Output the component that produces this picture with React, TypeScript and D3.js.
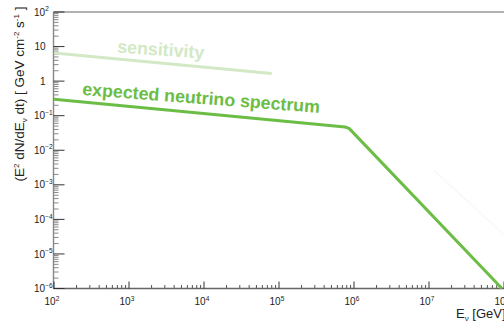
import React from "react";
import * as d3 from "d3";

// ---- data ----
const xExponents = [2, 3, 4, 5, 6, 7, 8];
const yExponents = [2, 1, 0, -1, -2, -3, -4, -5, -6];

const sensitivityE = [1e2, 8e4];
const sensitivityFlux = [6.5, 1.65];

const spectrumE = [1e2, 7.6e5, 8.6e5, 9.4e7];
const spectrumFlux = [0.3, 0.047, 0.043, 1.0e-6];

const faintE = [1.17e7, 1.1e8];
const faintFlux = [2.6e-3, 3.0e-5];

const W = 504;
const H = 323;

const x0 = 54;
const decadeX = 75;
const yTop = 12;
const yBottom = 288.5;

const xScale = d3.scaleLog().domain([1e2, 1e8]).range([x0, x0 + 6 * decadeX]);
const yScale = d3.scaleLog().domain([1e-6, 1e2]).range([yBottom, yTop]);

const GREEN = "#6cbd45";
const LIGHT_GREEN = "#d3e8c5";

function makeLine(es: number[], fs: number[]) {
  const pts = es.map((e, i) => [e, fs[i]] as [number, number]);
  return d3
    .line<[number, number]>()
    .x((d) => xScale(d[0]))
    .y((d) => yScale(d[1]))(pts) as string;
}

const FONT = "'Liberation Sans', Arial, Helvetica, sans-serif";

function expLabel(e: number): string {
  return e < 0 ? "\u2212" + Math.abs(e) : String(e);
}

export default function App() {
  const axisX = x0 - 0.5;

  const yMinor: number[] = [];
  for (let e = -6; e < 2; e++) {
    for (let m = 2; m <= 9; m++) yMinor.push(m * Math.pow(10, e));
  }
  const xMinor: number[] = [];
  for (let e = 2; e < 8; e++) {
    for (let m = 2; m <= 9; m++) xMinor.push(m * Math.pow(10, e));
  }

  return (
    <svg
      width={W}
      height={H}
      style={{ position: "absolute", left: 0, top: 0, background: "#fff" }}
      fontFamily={FONT}
    >
      {/* frame */}
      <line x1={axisX} x2={W + 10} y1={yTop} y2={yTop} stroke="#999" strokeWidth={1.6} />
      <line x1={axisX} x2={axisX} y1={yTop} y2={yBottom} stroke="#888" strokeWidth={1.4} />
      <line x1={axisX} x2={W + 10} y1={yBottom} y2={yBottom} stroke="#666" strokeWidth={1.4} />

      {yMinor.map((v, i) => (
        <line
          key={"ym" + i}
          x1={axisX}
          x2={axisX + 5}
          y1={yScale(v)}
          y2={yScale(v)}
          stroke="#888"
          strokeWidth={1}
        />
      ))}
      {yExponents.map((e) => (
        <line
          key={"yM" + e}
          x1={axisX}
          x2={axisX + 11}
          y1={yScale(Math.pow(10, e))}
          y2={yScale(Math.pow(10, e))}
          stroke="#333"
          strokeWidth={1}
        />
      ))}
      {xMinor.map((v, i) => (
        <line
          key={"xm" + i}
          x1={xScale(v)}
          x2={xScale(v)}
          y1={yBottom}
          y2={yBottom - 3.5}
          stroke="#555"
          strokeWidth={1}
        />
      ))}
      {xExponents.map((e) => (
        <line
          key={"xM" + e}
          x1={xScale(Math.pow(10, e))}
          x2={xScale(Math.pow(10, e))}
          y1={yBottom}
          y2={yBottom - 7}
          stroke="#333"
          strokeWidth={1}
        />
      ))}

      {yExponents.map((e) => {
        const y = yScale(Math.pow(10, e));
        if (e === 1 || e === 0) {
          return (
            <text key={"yl" + e} x={45.5} y={y + 3.6} fontSize={10} textAnchor="end" fill="#222">
              {e === 1 ? "10" : "1"}
            </text>
          );
        }
        return (
          <g key={"yl" + e}>
            <text x={45} y={y + 3.6} fontSize={10} textAnchor="end" fill="#222">
              10
            </text>
            <text x={45.3} y={y - 0.8} fontSize={6.5} textAnchor="start" fill="#222">
              {expLabel(e)}
            </text>
          </g>
        );
      })}

      {xExponents.map((e) => {
        const x = xScale(Math.pow(10, e));
        return (
          <g key={"xl" + e}>
            <text x={x + 1.5} y={305} fontSize={10} textAnchor="end" fill="#222">
              10
            </text>
            <text x={x + 1.8} y={300.5} fontSize={6.5} textAnchor="start" fill="#222">
              {expLabel(e)}
            </text>
          </g>
        );
      })}

      <text
        transform="translate(24,94) rotate(-90)"
        fontSize={13.5}
        textAnchor="middle"
        fill="#222"
      >
        (E
        <tspan fontSize={8} dy={-5}>2</tspan>
        <tspan dy={5}> dN/dE</tspan>
        <tspan fontSize={8} dy={3}>ν</tspan>
        <tspan dy={-3}> dt) [ GeV cm</tspan>
        <tspan fontSize={8} dy={-5}>-2</tspan>
        <tspan dy={5}> s</tspan>
        <tspan fontSize={8} dy={-5}>-1</tspan>
        <tspan dy={5}> ]</tspan>
      </text>
      <text x={456} y={318} fontSize={13} fill="#222">
        E<tspan fontSize={8} dy={3}>ν</tspan>
        <tspan dy={-3}> [GeV]</tspan>
      </text>

      <path d={makeLine(faintE, faintFlux)} fill="none" stroke="#f9f9f9" strokeWidth={2} />
      <path d={makeLine(sensitivityE, sensitivityFlux)} fill="none" stroke={LIGHT_GREEN} strokeWidth={3} />
      <path
        d={makeLine(spectrumE, spectrumFlux)}
        fill="none"
        stroke={GREEN}
        strokeWidth={3}
        strokeLinejoin="round"
      />

      <text
        x={117}
        y={52.5}
        transform="rotate(4 117 52.5)"
        fontSize={17.8}
        fontWeight="bold"
        fill={LIGHT_GREEN}
      >
        sensitivity
      </text>
      <text
        x={82}
        y={95}
        transform="rotate(4.3 82 95)"
        fontSize={17.8}
        fontWeight="bold"
        fill={GREEN}
      >
        expected neutrino spectrum
      </text>
    </svg>
  );
}
